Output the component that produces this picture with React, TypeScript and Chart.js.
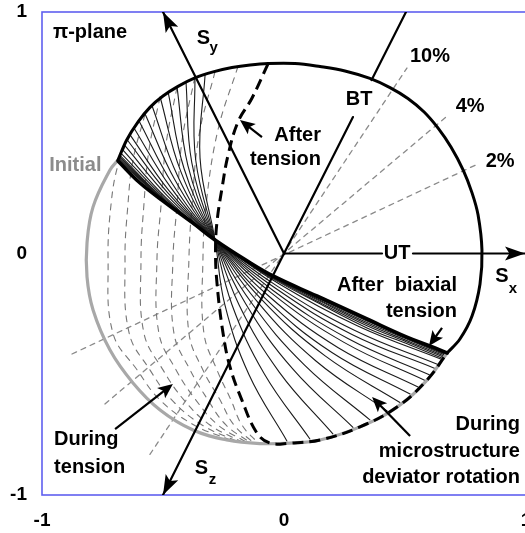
import React, { useEffect, useRef } from 'react';
import { Chart, registerables } from 'chart.js';

Chart.register(...registerables);

type Pt = [number, number];

// Normalised deviatoric stress components in the π-plane.
const axisTicks = [-1, 0, 1];

// Common upper boundary (initial locus and locus after biaxial tension share it)
const topArc: Pt[] = [
  [-0.686, 0.387], [-0.65, 0.47], [-0.603, 0.545], [-0.554, 0.605], [-0.5, 0.652],
  [-0.438, 0.692], [-0.368, 0.727], [-0.293, 0.752], [-0.215, 0.77], [-0.14, 0.781],
  [-0.066, 0.787], [0.045, 0.787], [0.149, 0.774], [0.252, 0.756], [0.355, 0.725],
  [0.438, 0.687], [0.512, 0.642], [0.579, 0.586], [0.636, 0.52], [0.69, 0.441],
  [0.74, 0.346], [0.777, 0.251], [0.802, 0.159], [0.818, 0.014], [0.81, -0.126],
  [0.777, -0.259], [0.727, -0.354], [0.674, -0.412],
];

// Initial locus (lower / left part)
const initialSurface: Pt[] = [
  [-0.686, 0.387], [-0.719, 0.346], [-0.789, 0.193], [-0.814, 0.043], [-0.814, -0.097],
  [-0.789, -0.234], [-0.719, -0.4], [-0.624, -0.536], [-0.512, -0.648], [-0.376, -0.731],
  [-0.236, -0.772], [-0.099, -0.787], [0.025, -0.785], [0.149, -0.772], [0.314, -0.718],
  [0.467, -0.636], [0.591, -0.524], [0.674, -0.412],
];

// Locus after uniaxial tension (flattened side)
const afterTension: Pt[] = [
  [-0.066, 0.785], [-0.132, 0.644], [-0.19, 0.545], [-0.231, 0.408], [-0.256, 0.271],
  [-0.277, 0.13], [-0.283, 0.014], [-0.277, -0.122], [-0.252, -0.329], [-0.223, -0.47],
  [-0.174, -0.607], [-0.112, -0.743], [-0.058, -0.785], [0.025, -0.785], [0.149, -0.772],
  [0.314, -0.718], [0.467, -0.636], [0.591, -0.524], [0.674, -0.412],
];

// Locus after biaxial tension (flattened side)
const afterBiaxial: Pt[] = [
  [-0.686, 0.383], [-0.595, 0.292], [-0.483, 0.205], [-0.376, 0.126], [-0.285, 0.056],
  [-0.161, -0.025], [-0.045, -0.093], [0.136, -0.176], [0.343, -0.271], [0.508, -0.346],
  [0.624, -0.391], [0.674, -0.412],
];

// Intermediate loci while the microstructure deviator rotates
const rotationSurfaces: Pt[][] = [
  [[-0.326, 0.742], [-0.347, 0.396], [-0.285, 0.056], [-0.245, -0.21], [-0.145, -0.501], [0.012, -0.776]],
  [[-0.368, 0.731], [-0.365, 0.388], [-0.285, 0.056], [-0.215, -0.212], [-0.081, -0.499], [0.107, -0.768]],
  [[-0.405, 0.71], [-0.381, 0.376], [-0.285, 0.056], [-0.186, -0.212], [-0.019, -0.492], [0.202, -0.747]],
  [[-0.442, 0.689], [-0.397, 0.364], [-0.285, 0.056], [-0.159, -0.207], [0.037, -0.479], [0.285, -0.72]],
  [[-0.479, 0.669], [-0.413, 0.352], [-0.285, 0.056], [-0.136, -0.202], [0.085, -0.462], [0.355, -0.689]],
  [[-0.512, 0.648], [-0.427, 0.341], [-0.285, 0.056], [-0.113, -0.196], [0.132, -0.445], [0.426, -0.652]],
  [[-0.545, 0.611], [-0.44, 0.322], [-0.285, 0.056], [-0.095, -0.188], [0.17, -0.424], [0.479, -0.617]],
  [[-0.574, 0.578], [-0.451, 0.305], [-0.285, 0.056], [-0.081, -0.183], [0.198, -0.41], [0.521, -0.582]],
  [[-0.599, 0.549], [-0.462, 0.29], [-0.285, 0.056], [-0.067, -0.173], [0.224, -0.39], [0.554, -0.553]],
  [[-0.62, 0.52], [-0.469, 0.275], [-0.285, 0.056], [-0.054, -0.162], [0.248, -0.368], [0.583, -0.526]],
  [[-0.636, 0.491], [-0.476, 0.261], [-0.285, 0.056], [-0.045, -0.153], [0.264, -0.352], [0.603, -0.503]],
  [[-0.649, 0.472], [-0.481, 0.252], [-0.285, 0.056], [-0.035, -0.144], [0.281, -0.335], [0.624, -0.476]],
  [[-0.659, 0.449], [-0.484, 0.241], [-0.285, 0.056], [-0.028, -0.135], [0.293, -0.319], [0.636, -0.46]],
  [[-0.667, 0.43], [-0.488, 0.231], [-0.285, 0.056], [-0.021, -0.125], [0.307, -0.301], [0.653, -0.439]],
  [[-0.674, 0.416], [-0.489, 0.225], [-0.285, 0.056], [-0.161, -0.032], [-0.045, -0.105], [0.136, -0.202], [0.343, -0.308], [0.521, -0.379], [0.657, -0.435]],
  [[-0.678, 0.406], [-0.491, 0.221], [-0.285, 0.056], [-0.161, -0.031], [-0.045, -0.102], [0.136, -0.197], [0.343, -0.299], [0.521, -0.372], [0.661, -0.43]],
  [[-0.68, 0.401], [-0.491, 0.219], [-0.285, 0.056], [-0.161, -0.03], [-0.045, -0.1], [0.136, -0.191], [0.343, -0.292], [0.521, -0.366], [0.664, -0.425]],
  [[-0.682, 0.397], [-0.492, 0.217], [-0.285, 0.056], [-0.161, -0.029], [-0.045, -0.098], [0.136, -0.187], [0.343, -0.286], [0.521, -0.36], [0.667, -0.421]],
  [[-0.683, 0.393], [-0.492, 0.215], [-0.285, 0.056], [-0.161, -0.027], [-0.045, -0.096], [0.136, -0.183], [0.343, -0.28], [0.521, -0.356], [0.669, -0.418]],
  [[-0.685, 0.39], [-0.493, 0.214], [-0.285, 0.056], [-0.161, -0.026], [-0.045, -0.095], [0.136, -0.179], [0.343, -0.276], [0.521, -0.352], [0.671, -0.415]],
];

// Intermediate loci during uniaxial tension
const tensionSurfaces: Pt[][] = [
  [[-0.636, 0.491], [-0.686, 0.366], [-0.715, 0.201], [-0.727, -0.027], [-0.707, -0.329], [-0.607, -0.482], [-0.512, -0.607], [-0.372, -0.71], [-0.223, -0.772]],
  [[-0.574, 0.578], [-0.624, 0.387], [-0.645, 0.201], [-0.657, -0.027], [-0.64, -0.329], [-0.554, -0.482], [-0.463, -0.607], [-0.339, -0.71], [-0.198, -0.776]],
  [[-0.512, 0.648], [-0.558, 0.429], [-0.579, 0.201], [-0.591, -0.027], [-0.579, -0.329], [-0.5, -0.482], [-0.413, -0.607], [-0.306, -0.71], [-0.178, -0.778]],
  [[-0.442, 0.689], [-0.488, 0.449], [-0.508, 0.201], [-0.525, -0.027], [-0.517, -0.329], [-0.446, -0.482], [-0.364, -0.607], [-0.273, -0.71], [-0.157, -0.78]],
  [[-0.368, 0.731], [-0.421, 0.47], [-0.442, 0.201], [-0.459, -0.027], [-0.455, -0.329], [-0.388, -0.482], [-0.314, -0.607], [-0.24, -0.71], [-0.14, -0.783]],
  [[-0.285, 0.753], [-0.351, 0.491], [-0.38, 0.201], [-0.393, -0.027], [-0.393, -0.329], [-0.335, -0.482], [-0.264, -0.607], [-0.207, -0.71], [-0.124, -0.785]],
  [[-0.19, 0.775], [-0.273, 0.511], [-0.322, 0.201], [-0.335, -0.027], [-0.331, -0.329], [-0.277, -0.482], [-0.219, -0.607], [-0.174, -0.71], [-0.107, -0.785]],
];

// Strain-path directions (2 %, 4 %, 10 %)
const strainPath2: Pt[] = [[-0.876, -0.416], [0.802, 0.371]];
const strainPath4: Pt[] = [[-0.74, -0.623], [0.674, 0.569]];
const strainPath10: Pt[] = [[-0.554, -0.832], [0.508, 0.768]];

// Stress axes and loading directions
const utAxis: Pt[] = [[0, 0], [0.405, 0]];
const sxAxis: Pt[] = [[0.533, 0], [0.996, 0]];
const syAxis: Pt[] = [[0, 0], [-0.5, 1]];
const szAxis: Pt[] = [[0, 0], [-0.5, -1]];
const btAxisLower: Pt[] = [[0, 0], [0.285, 0.565]];
const btAxisUpper: Pt[] = [[0.362, 0.718], [0.504, 1]];

const FONT = '"Liberation Sans", Arial, Helvetica, sans-serif';

type TextItem = { text: string; at: Pt; align?: CanvasTextAlign; size?: number; color?: string };
const textItems: TextItem[] = [
  { text: 'π-plane', at: [-0.955, 0.917], align: 'left' },
  { text: 'S', at: [-0.333, 0.89] },
  { text: 'y', at: [-0.291, 0.851], size: 15 },
  { text: 'Initial', at: [-0.862, 0.366], color: '#8c8c8c' },
  { text: 'After', at: [0.153, 0.489], align: 'right' },
  { text: 'tension', at: [0.153, 0.389], align: 'right' },
  { text: 'BT', at: [0.31, 0.636] },
  { text: '10%', at: [0.603, 0.816] },
  { text: '4%', at: [0.769, 0.609] },
  { text: '2%', at: [0.893, 0.381] },
  { text: 'UT', at: [0.467, 0] },
  { text: 'S', at: [0.901, -0.095] },
  { text: 'x', at: [0.946, -0.147], size: 15 },
  { text: 'After  biaxial', at: [0.715, -0.133], align: 'right' },
  { text: 'tension', at: [0.715, -0.24], align: 'right' },
  { text: 'During', at: [0.975, -0.708], align: 'right' },
  { text: 'microstructure', at: [0.975, -0.818], align: 'right' },
  { text: 'deviator rotation', at: [0.975, -0.928], align: 'right' },
  { text: 'During', at: [-0.95, -0.772], align: 'left' },
  { text: 'tension', at: [-0.95, -0.886], align: 'left' },
  { text: 'S', at: [-0.341, -0.89] },
  { text: 'z', at: [-0.295, -0.938], size: 15 },
];

// Pointer arrows from the captions to the loci
const callouts: { from: Pt; to: Pt }[] = [
  { from: [-0.091, 0.482], to: [-0.182, 0.553] },
  { from: [0.653, -0.308], to: [0.599, -0.383] },
  { from: [0.521, -0.756], to: [0.364, -0.594] },
  { from: [-0.698, -0.727], to: [-0.459, -0.54] },
];

const toXY = (pts: Pt[]) => pts.map(([x, y]) => ({ x, y }));

const curve = (pts: Pt[], style: Record<string, unknown>) => ({
  data: toXY(pts),
  showLine: true,
  pointRadius: 0,
  pointHoverRadius: 0,
  fill: false,
  tension: 0.4,
  borderCapStyle: 'round',
  borderJoinStyle: 'round',
  ...style,
});

function drawHead(ctx: CanvasRenderingContext2D, x0: number, y0: number, x1: number, y1: number, len: number, half: number) {
  const a = Math.atan2(y1 - y0, x1 - x0);
  const c = Math.cos(a);
  const s = Math.sin(a);
  const bx = x1 - c * len;
  const by = y1 - s * len;
  ctx.beginPath();
  ctx.moveTo(x1, y1);
  ctx.lineTo(bx - s * half, by + c * half);
  ctx.lineTo(x1 - c * len * 0.78, y1 - s * len * 0.78);
  ctx.lineTo(bx + s * half, by - c * half);
  ctx.closePath();
  ctx.fillStyle = '#000';
  ctx.fill();
}

const framePlugin = {
  id: 'frame',
  beforeDatasetsDraw(chart: any) {
    const { ctx, chartArea: a } = chart;
    ctx.save();
    ctx.strokeStyle = '#5f5fef';
    ctx.lineWidth = 1.6;
    ctx.strokeRect(a.left, a.top, a.right - a.left, a.bottom - a.top);
    ctx.restore();
  },
};

const annotatePlugin = {
  id: 'annotate',
  afterDatasetsDraw(chart: any) {
    const { ctx } = chart;
    const xs = chart.scales.x;
    const ys = chart.scales.y;
    const px = (p: Pt): Pt => [xs.getPixelForValue(p[0]), ys.getPixelForValue(p[1])];
    ctx.save();
    chart.data.datasets.forEach((ds: any, i: number) => {
      if (!ds.arrowHead) return;
      const pts = chart.getDatasetMeta(i).data;
      const a = pts[pts.length - 2];
      const b = pts[pts.length - 1];
      drawHead(ctx, a.x, a.y, b.x, b.y, 20, 7);
    });
    callouts.forEach(({ from, to }) => {
      const [x0, y0] = px(from);
      const [x1, y1] = px(to);
      const ang = Math.atan2(y1 - y0, x1 - x0);
      ctx.beginPath();
      ctx.moveTo(x0, y0);
      ctx.lineTo(x1 - Math.cos(ang) * 8, y1 - Math.sin(ang) * 8);
      ctx.strokeStyle = '#000';
      ctx.lineWidth = 2.2;
      ctx.stroke();
      drawHead(ctx, x0, y0, x1, y1, 15, 6.5);
    });
    ctx.textBaseline = 'middle';
    textItems.forEach((t) => {
      const [x, y] = px(t.at);
      ctx.font = `bold ${t.size ?? 20}px ${FONT}`;
      ctx.textAlign = t.align ?? 'center';
      ctx.fillStyle = t.color ?? '#000';
      ctx.fillText(t.text, x, y);
    });
    ctx.restore();
  },
};

export default function App() {
  const ref = useRef<HTMLCanvasElement>(null);

  useEffect(() => {
    if (!ref.current) return;
    const datasets: any[] = [
      curve(strainPath2, { borderColor: '#8a8a8a', borderWidth: 1.3, borderDash: [5, 5], tension: 0, order: 20 }),
      curve(strainPath4, { borderColor: '#8a8a8a', borderWidth: 1.3, borderDash: [5, 5], tension: 0, order: 20 }),
      curve(strainPath10, { borderColor: '#8a8a8a', borderWidth: 1.3, borderDash: [5, 5], tension: 0, order: 20 }),
      ...tensionSurfaces.map((s) => curve(s, { borderColor: '#777', borderWidth: 1.1, borderDash: [6, 6], order: 18 })),
      ...rotationSurfaces.map((s) => curve(s, { borderColor: '#1a1a1a', borderWidth: 1.1, order: 16 })),
      curve(initialSurface, { borderColor: '#a8a8a8', borderWidth: 3.2, order: 14 }),
      curve(afterTension, { borderColor: '#000', borderWidth: 3, borderDash: [11, 6], borderCapStyle: 'butt', order: 12 }),
      curve(topArc, { borderColor: '#000', borderWidth: 3, tension: 0.35, order: 10 }),
      curve(afterBiaxial, { borderColor: '#000', borderWidth: 3.6, order: 10 }),
      curve(utAxis, { borderColor: '#000', borderWidth: 2.2, tension: 0, order: 2 }),
      curve(sxAxis, { borderColor: '#000', borderWidth: 2.2, tension: 0, order: 2, arrowHead: true }),
      curve(syAxis, { borderColor: '#000', borderWidth: 2.2, tension: 0, order: 2, arrowHead: true }),
      curve(szAxis, { borderColor: '#000', borderWidth: 2.2, tension: 0, order: 2, arrowHead: true }),
      curve(btAxisLower, { borderColor: '#000', borderWidth: 2.2, tension: 0, order: 2 }),
      curve(btAxisUpper, { borderColor: '#000', borderWidth: 2.2, tension: 0, order: 2 }),
    ];

    const tickFont = { family: FONT, size: 19, weight: 'bold' as const };
    const chart = new Chart(ref.current, {
      type: 'scatter',
      data: { datasets },
      options: {
        animation: false,
        responsive: false,
        devicePixelRatio: 1,
        events: [],
        layout: { padding: { top: 12, right: 19, left: 0, bottom: 0 } },
        plugins: { legend: { display: false }, tooltip: { enabled: false } },
        scales: {
          x: {
            type: 'linear',
            min: -1,
            max: 1,
            grid: { display: false, drawTicks: false },
            border: { display: false },
            afterBuildTicks: (s: any) => { s.ticks = axisTicks.map((value) => ({ value })); },
            afterFit: (s: any) => { s.height = 38; s.paddingLeft = 0; s.paddingRight = 0; },
            ticks: { font: tickFont, color: '#000', padding: 14, maxRotation: 0, callback: (v: any) => String(v) },
          },
          y: {
            type: 'linear',
            min: -1,
            max: 1,
            grid: { display: false, drawTicks: false },
            border: { display: false },
            afterBuildTicks: (s: any) => { s.ticks = axisTicks.map((value) => ({ value })); },
            afterFit: (s: any) => { s.width = 42; s.paddingTop = 0; s.paddingBottom = 0; },
            ticks: { font: tickFont, color: '#000', padding: 15, callback: (v: any) => String(v) },
          },
        },
      },
      plugins: [framePlugin, annotatePlugin],
    } as any);
    return () => chart.destroy();
  }, []);

  return (
    <div style={{ position: 'absolute', left: 0, top: 0, width: 525, height: 533, overflow: 'hidden', background: '#fff' }}>
      <canvas ref={ref} width={545} height={533} style={{ display: 'block', width: 545, height: 533 }} />
    </div>
  );
}
